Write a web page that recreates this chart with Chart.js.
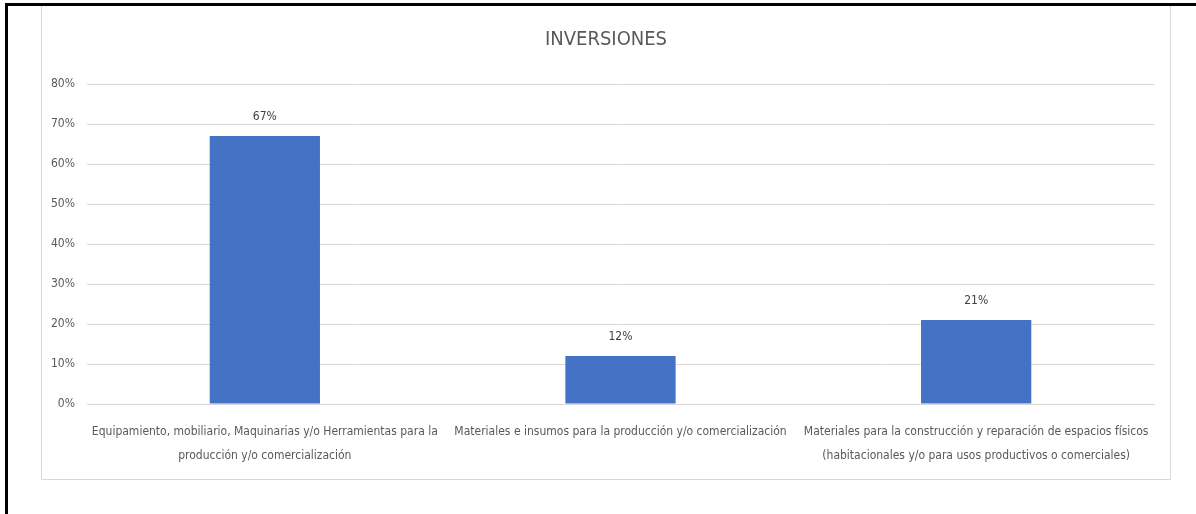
<!DOCTYPE html>
<html lang="es">
<head>
  <meta charset="UTF-8">
  <title>Inversiones</title>
  <script src="https://cdn.jsdelivr.net/npm/chart.js"></script>
  <style>
    html, body { margin: 0; padding: 0; background: #fff; overflow: hidden; }
    .frame {
      position: absolute; left: 5px; top: 3px; right: 0; bottom: 0;
      border-top: 3px solid #000; border-left: 3px solid #000;
    }
    .box {
      position: absolute; left: 41px; top: 6px; width: 1128px; height: 473px;
      border: 1px solid #d9d9d9; border-top: none;
    }
  </style>
</head>
<body>
<div class="frame"></div>
<div class="box">
  <canvas id="chart"></canvas>
</div>

<script>
  // datos
  const categorias = [
    ["Equipamiento, mobiliario, Maquinarias y/o Herramientas para la", "producción y/o comercialización"],
    "Materiales e insumos para la producción y/o comercialización",
    ["Materiales para la construcción y reparación de espacios físicos", "(habitacionales y/o para usos productivos o comerciales)"]
  ];
  const valores = [67, 12, 21];
  const ticksY = [0, 10, 20, 30, 40, 50, 60, 70, 80];

  const fuente = "'DejaVu Sans Condensed', 'Liberation Sans', sans-serif";

  // etiquetas de valor encima de cada barra
  const etiquetas = {
    id: "etiquetas",
    afterDatasetsDraw(chart) {
      const ctx = chart.ctx;
      const meta = chart.getDatasetMeta(0);
      ctx.save();
      ctx.font = "12px " + fuente;
      ctx.fillStyle = "#404040";
      ctx.textAlign = "center";
      ctx.textBaseline = "middle";
      meta.data.forEach((bar, i) => {
        ctx.fillText(valores[i] + "%", bar.x, bar.y - 19);
      });
      ctx.restore();
    }
  };

  new Chart(document.getElementById("chart"), {
    type: "bar",
    data: {
      labels: categorias,
      datasets: [{
        data: valores,
        backgroundColor: "#4472C4",
        categoryPercentage: 1,
        barPercentage: 0.31
      }]
    },
    options: {
      responsive: true,
      maintainAspectRatio: false,
      animation: false,
      layout: { padding: { left: 0, right: 0, top: 0, bottom: 3 } },
      plugins: {
        legend: { display: false },
        tooltip: { enabled: false },
        title: {
          display: true,
          text: "INVERSIONES",
          color: "#595959",
          font: { family: fuente, size: 20, weight: "normal", lineHeight: 1.2 },
          padding: { top: 22, bottom: 32 }
        }
      },
      scales: {
        x: {
          grid: { display: false },
          border: { display: true, color: "#d9d9d9" },
          ticks: {
            color: "#595959",
            font: { family: fuente, size: 12, lineHeight: 2 },
            maxRotation: 0, minRotation: 0, autoSkip: false,
            padding: 8
          }
        },
        y: {
          min: 0, max: 80,
          afterFit(scale) { scale.width = 45; },
          afterBuildTicks(scale) { scale.ticks = ticksY.map(v => ({ value: v })); },
          grid: { color: "#d9d9d9", drawTicks: false },
          border: { display: false },
          ticks: {
            color: "#595959",
            font: { family: fuente, size: 12 },
            padding: 12,
            callback: v => v + "%"
          }
        },
        // eje vacío a la derecha, solo reserva el margen
        derecha: {
          position: "right",
          afterFit(scale) { scale.width = 16; },
          grid: { display: false },
          border: { display: false },
          ticks: { display: false }
        }
      }
    },
    plugins: [etiquetas]
  });
</script>
</body>
</html>
